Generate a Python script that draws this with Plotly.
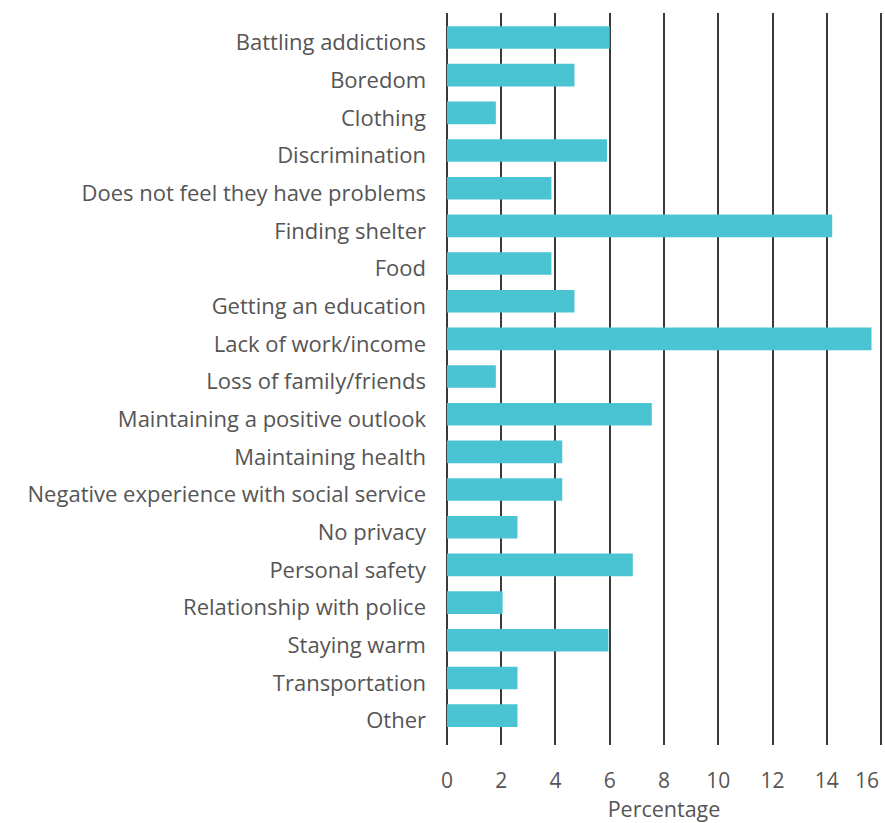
import plotly.graph_objects as go

categories = [
    "Battling addictions", "Boredom", "Clothing", "Discrimination",
    "Does not feel they have problems", "Finding shelter", "Food",
    "Getting an education", "Lack of work/income", "Loss of family/friends",
    "Maintaining a positive outlook", "Maintaining health",
    "Negative experience with social service", "No privacy",
    "Personal safety", "Relationship with police", "Staying warm",
    "Transportation", "Other",
]
values = [6.0, 4.7, 1.8, 5.9, 3.85, 14.2, 3.85, 4.7, 15.65, 1.8,
          7.55, 4.25, 4.25, 2.6, 6.85, 2.05, 5.95, 2.6, 2.6]
x_ticks = [0, 2, 4, 6, 8, 10, 12, 14, 16]
x_ticktext = ["0", "2", "4", "6", "8", "10", "12", "14", ""]
last_tick_label = "16"

fig = go.Figure(go.Bar(
    x=values, y=categories, orientation="h",
    marker=dict(color="#4AC3D2", line=dict(width=0)),
    width=0.6,
))

font_family = "Open Sans"
fig.update_layout(
    width=885, height=823,
    margin=dict(l=444, r=1, t=13, b=78, autoexpand=False),
    paper_bgcolor="white", plot_bgcolor="white",
    showlegend=False,
    font=dict(family=font_family, color="#555555", size=21),
)
# last x tick label is right-aligned at its gridline so it stays inside the page
fig.add_annotation(
    x=x_ticks[-1], xref="x", y=0, yref="paper",
    text=last_tick_label, showarrow=False,
    xanchor="right", yanchor="middle", xshift=0, yshift=-35,
    font=dict(size=21, color="#555555", family=font_family),
)
fig.update_xaxes(
    range=[-0.11, 16.11], tickvals=x_ticks, ticktext=x_ticktext,
    showgrid=True, gridcolor="#3a3a3a", gridwidth=1.5,
    zeroline=False, showline=False, ticks="",
    tickfont=dict(size=21, color="#555555"),
    ticklabelstandoff=21, automargin=False,
    title=dict(text="Percentage", font=dict(size=21.5, color="#555555"), standoff=14),
)
fig.update_yaxes(
    categoryorder="array", categoryarray=categories,
    range=[18.78, -0.65],
    showgrid=False, zeroline=False, showline=False, ticks="",
    tickfont=dict(size=22, color="#555555"),
    ticklabelstandoff=17, ticklabelshift=-5, automargin=False,
)

fig.write_html(
    "out.html",
    config={"displayModeBar": False},
    post_script="document.body.style.margin='0';document.body.style.overflow='hidden';",
)
